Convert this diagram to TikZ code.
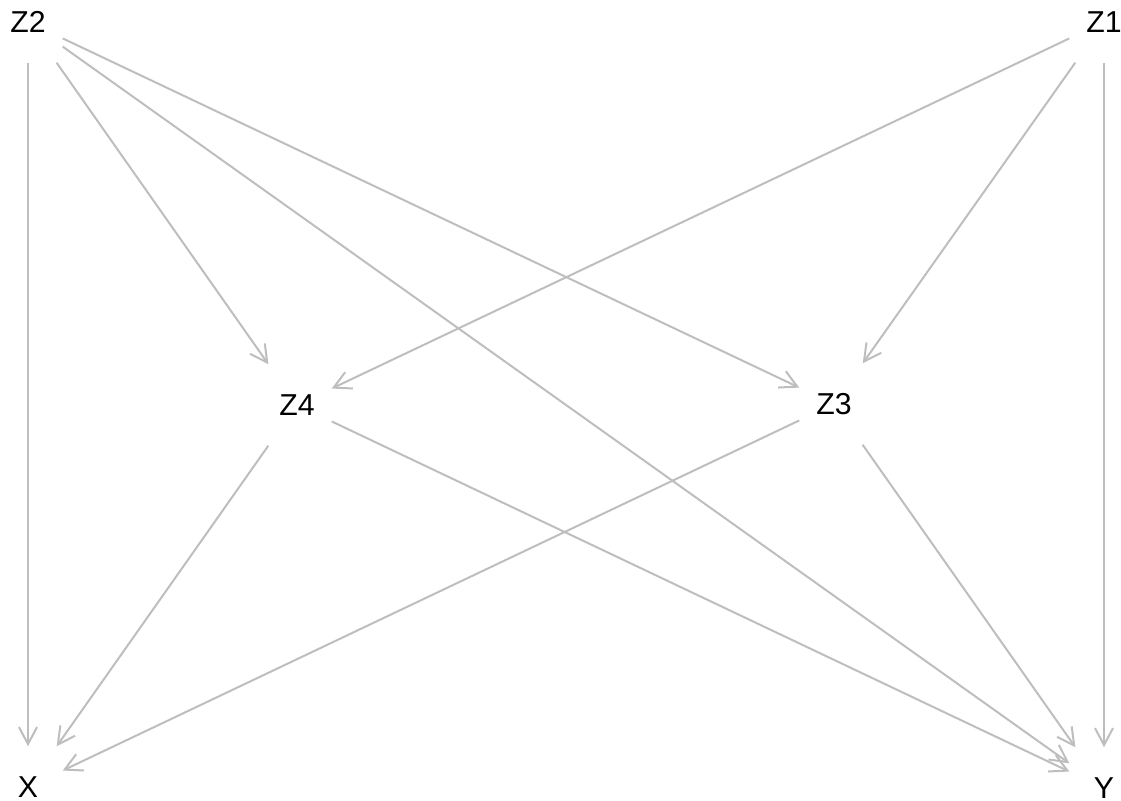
\documentclass[tikz,border=0pt]{standalone}
\usepackage{fontspec}
\setmainfont{Liberation Sans}
\usetikzlibrary{positioning,arrows.meta}
\definecolor{edgegray}{RGB}{190,190,190}
\tikzset{vnode/.style={minimum width=0.68cm,minimum height=0.8cm,inner sep=0pt,font=\fontsize{8.6}{10}\selectfont}  }
\tikzset{dedge/.style={draw=edgegray,line width=0.57pt,-{Straight Barb[length=1.7mm,width=1.8mm]}}  }

\begin{document}
\begin{tikzpicture}[x=0.01cm,y=-0.01cm]
	\useasboundingbox (0,0) rectangle (1121,801);
		\node[vnode] (z2) at (28,22) {Z2};
		\node[vnode] (z1) at (1104,22) {Z1};
		\node[vnode] (z4) at (297,405) {Z4};
		\node[vnode] (z3) at (834,404) {Z3};
		\node[vnode] (x) at (28,787) {X};
		\node[vnode] (y) at (1104,788) {Y};

		\draw[dedge]
			(z2) edge (x) edge (z4) edge (z3) edge (y)
			(z1) edge (z4) edge (z3) edge (y)
			(z4) edge (x) edge (y)
			(z3) edge (x) edge (y)
			;
\end{tikzpicture}
\end{document}
